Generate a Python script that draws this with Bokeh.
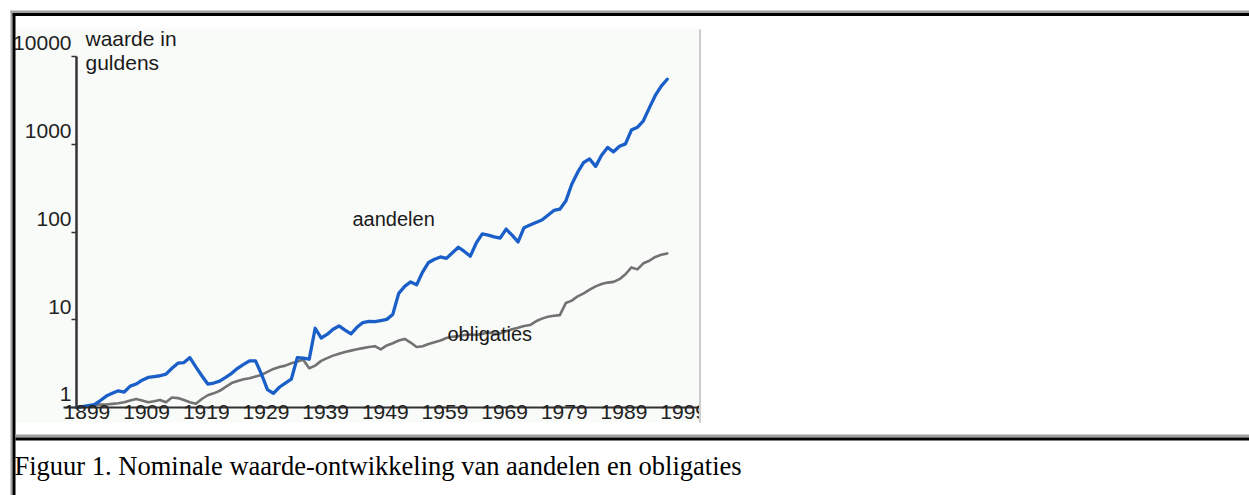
from bokeh.plotting import figure
from bokeh.models import Range1d, FixedTicker, BoxAnnotation, Label
from bokeh.embed import file_html
from bokeh.resources import INLINE

# ---------------- data ----------------
years = list(range(1899, 1999))

aandelen = [
    1.00, 1.02, 1.05, 1.08, 1.20, 1.35, 1.45, 1.55, 1.50, 1.75,   # 1899-1908
    1.85, 2.05, 2.20, 2.25, 2.30, 2.40, 2.80, 3.20, 3.25, 3.70,   # 1909-1918
    2.90, 2.30, 1.85, 1.90, 2.00, 2.20, 2.45, 2.80, 3.10, 3.40,   # 1919-1928
    3.40, 2.40, 1.60, 1.45, 1.70, 1.90, 2.10, 3.70, 3.65, 3.55,   # 1929-1938
    8.0, 6.2, 6.8, 7.8, 8.5, 7.6, 6.9, 8.2, 9.3, 9.6,             # 1939-1948
    9.5, 9.8, 10.1, 11.5, 20.0, 24.0, 27.0, 25.0, 35.0, 45.0,     # 1949-1958
    49.0, 52.0, 50.0, 58.0, 67.0, 60.0, 53.0, 75.0, 95.0, 92.0,   # 1959-1968
    88.0, 85.0, 108.0, 92.0, 77.0, 112.0, 120.0, 128.0, 137.0, 155.0,  # 1969-1978
    176.0, 182.0, 225.0, 350.0, 480.0, 620.0, 680.0, 560.0, 750.0, 920.0,  # 1979-1988
    820.0, 950.0, 1010.0, 1450.0, 1560.0, 1850.0, 2600.0, 3600.0, 4600.0, 5500.0,  # 1989-1998
]

obligaties = [
    1.00, 1.02, 1.05, 1.07, 1.08, 1.08, 1.10, 1.12, 1.15, 1.20,   # 1899-1908
    1.25, 1.20, 1.15, 1.18, 1.22, 1.15, 1.30, 1.28, 1.22, 1.15,   # 1909-1918
    1.10, 1.25, 1.38, 1.45, 1.55, 1.72, 1.90, 2.00, 2.10, 2.15,   # 1919-1928
    2.25, 2.35, 2.55, 2.75, 2.90, 3.00, 3.20, 3.35, 3.50, 2.80,   # 1929-1938
    3.00, 3.40, 3.65, 3.90, 4.10, 4.30, 4.45, 4.60, 4.75, 4.90,   # 1939-1948
    5.00, 4.60, 5.10, 5.40, 5.80, 6.05, 5.50, 4.90, 5.00, 5.30,   # 1949-1958
    5.55, 5.80, 6.20, 6.40, 6.50, 6.70, 6.80, 6.70, 6.90, 7.20,   # 1959-1968
    6.90, 7.00, 7.40, 7.80, 8.10, 8.50, 8.70, 9.60, 10.3, 10.8,   # 1969-1978
    11.1, 11.3, 15.5, 16.5, 18.5, 20.0, 22.0, 24.0, 25.5, 26.5,   # 1979-1988
    27.0, 29.0, 33.0, 39.5, 37.5, 44.0, 47.0, 52.0, 55.0, 57.0,   # 1989-1998
]

x_tick_years = list(range(1899, 2000, 10))
x_tick_labels = [str(y) for y in x_tick_years]
y_tick_values = [1, 10, 100, 1000, 10000]
y_tick_labels = ["1", "10", "100", "1000", "10000"]
unit_lines = ["waarde in", "guldens"]
series_names = ["aandelen", "obligaties"]
caption = "Figuur 1. Nominale waarde-ontwikkeling van aandelen en obligaties"

# ---------------- layout (canvas pixels) ----------------
W, H = 1249, 495
X0, PXY = 76.0, 5.967         # x of first year, px per year
Y0, PXD = 407.0, 87.75        # y of value 1, px per decade
XLAB_SHIFT = 1.75             # category labels sit right of their year
YLAB_SHIFT = 1.41             # value labels sit above their tick


def X(px):
    return years[0] + (px - X0) / PXY


def Y(py):
    return 10 ** ((Y0 - py) / PXD)


# the frame fills the whole canvas; axes are pinned inside it
p = figure(width=W, height=H, y_axis_type="log",
           x_range=Range1d(X(0), X(W)), y_range=Range1d(Y(H), Y(0)),
           output_backend="svg", toolbar_location=None,
           min_border_left=0, min_border_right=0, min_border_top=0, min_border_bottom=0)
p.outline_line_color = None
p.xgrid.visible = False
p.ygrid.visible = False
BG = "#f9fbf9"
p.background_fill_color = "white"
p.border_fill_color = "white"

AX = "#333333"
FONT = "Liberation Sans"


def box(l, t, r, b, color, level="overlay"):
    p.add_layout(BoxAnnotation(left=X(l), right=X(r), top=Y(t), bottom=Y(b),
                               fill_color=color, fill_alpha=1, line_color=None,
                               level=level))


# picture background
box(15, 28, 700, 422, BG, level="underlay")

# x axis (category years)
xa = p.xaxis[0]
xa.fixed_location = y_tick_values[0]
xa.bounds = (X(63), X(700))
xt = [y + XLAB_SHIFT for y in x_tick_years]
xa.ticker = FixedTicker(ticks=xt)
xa.major_label_overrides = {t: s for t, s in zip(xt, x_tick_labels)}
xa.major_tick_in = 0
xa.major_tick_out = 0
xa.minor_tick_in = 0
xa.minor_tick_out = 0
xa.axis_line_color = AX
xa.axis_line_width = 2
xa.major_label_standoff = -3
xa.major_label_text_font = FONT
xa.major_label_text_font_size = "21px"
xa.major_label_text_color = "#222222"

# y axis (log values)
ya = p.yaxis[0]
ya.fixed_location = years[0]
yt = [v * YLAB_SHIFT for v in y_tick_values]
ya.ticker = FixedTicker(ticks=yt, minor_ticks=y_tick_values)
ya.major_label_overrides = {t: s for t, s in zip(yt, y_tick_labels)}
ya.major_tick_in = 0
ya.major_tick_out = 0
ya.minor_tick_in = 0
ya.minor_tick_out = 5
ya.minor_tick_line_color = AX
ya.minor_tick_line_width = 1.5
ya.axis_line_color = None
ya.major_label_standoff = 0
ya.major_label_text_font = FONT
ya.major_label_text_font_size = "21px"
ya.major_label_text_color = "#222222"

# visible value-axis line, from 1 to 10000 at the first year
p.segment(x0=[years[0]], y0=[y_tick_values[0]], x1=[years[0]], y1=[y_tick_values[-1]],
          line_color=AX, line_width=2.5)

# series
p.line(years, obligaties, line_color="#727272", line_width=2.6, line_join="round", line_cap="round")
p.line(years, aandelen, line_color="#1a5fc8", line_width=3.3, line_join="round", line_cap="round")


# texts inside the chart
def lab(px, py, text, size="20px"):
    p.add_layout(Label(x=X(px), y=Y(py), text=text, text_font=FONT, text_font_size=size,
                       text_color="#1a1a1a", text_baseline="middle", text_align="left"))


lab(85, 38, unit_lines[0], "21px")
lab(85, 62, unit_lines[1], "21px")
lab(352, 218, series_names[0])
lab(447, 333, series_names[1])

# right edge of the picture + cover for the clipped last label
box(700.5, 398, W + 5, 433, "white")
box(698.5, 29, 700.5, 422, "#cccccc")

# table borders
box(10, 10, W + 5, 12.5, "#a0a0a0")
box(12, 12.5, W + 5, 15.5, "#000000")
box(10, 10, 12, H + 5, "#a0a0a0")
box(12, 12.5, 15, H + 5, "#000000")
box(15, 434, W + 5, 437, "#a0a0a0")
box(15, 437, W + 5, 440, "#000000")

# caption
p.add_layout(Label(x=X(14), y=Y(465), text=caption, text_font="Liberation Serif",
                   text_font_size="26.5px", text_color="#000000", text_baseline="alphabetic",
                   text_align="left"))

open("out.html", "w").write(file_html(p, INLINE))
